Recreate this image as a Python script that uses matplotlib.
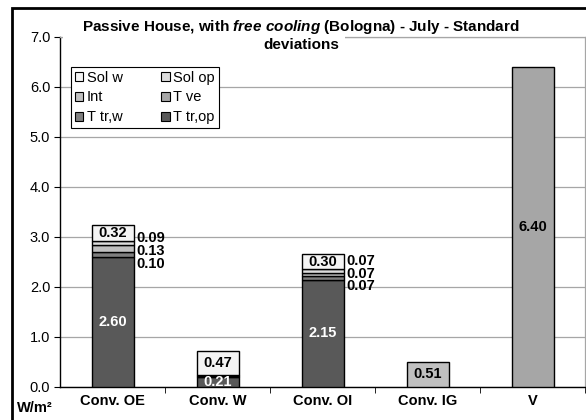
import numpy as np
import matplotlib
matplotlib.use("Agg")
import matplotlib.pyplot as plt
from matplotlib.patches import Rectangle, Patch

plt.rcParams['font.family'] = ['Liberation Sans', 'DejaVu Sans']
plt.rcParams['mathtext.fontset'] = 'custom'
plt.rcParams['mathtext.rm'] = 'Liberation Sans:bold'
plt.rcParams['mathtext.it'] = 'Liberation Sans:bold:italic'
plt.rcParams['mathtext.bf'] = 'Liberation Sans:bold'

# Dati (W/m2)
categories = ['Conv. OE', 'Conv. W', 'Conv. OI', 'Conv. IG', 'V']
t_tr_op = [2.60, 0.21, 2.15, 0.0, 0.0]
t_tr_w = [0.10, 0.02, 0.07, 0.0, 0.0]
t_ve = [0.0, 0.0, 0.0, 0.0, 6.40]
int_g = [0.13, 0.01, 0.07, 0.51, 0.0]
sol_op = [0.09, 0.01, 0.07, 0.0, 0.0]
sol_w = [0.32, 0.47, 0.30, 0.0, 0.0]

series = [
    ('T tr,op', t_tr_op, '#595959'),
    ('T tr,w', t_tr_w, '#7f7f7f'),
    ('T ve', t_ve, '#a6a6a6'),
    ('Int', int_g, '#c0c0c0'),
    ('Sol op', sol_op, '#dddddd'),
    ('Sol w', sol_w, '#f4f4f4'),
]

fig = plt.figure(figsize=(5.86, 4.2), dpi=100)
ax = fig.add_axes([60 / 586, 33 / 420, 525 / 586, 350 / 420])

x = np.arange(len(categories))
width = 0.4
bottom = np.zeros(len(categories))

for name, vals, col in series:
    vals = np.array(vals)
    mask = vals > 0
    ax.bar(x[mask], vals[mask], width, bottom=bottom[mask], color=col,
           edgecolor='black', linewidth=1, zorder=3)
    bottom = bottom + vals

# etichette
bottom = np.zeros(len(categories))
small_count = np.zeros(len(categories), dtype=int)
small_base = {}
for name, vals, col in series:
    for i, v in enumerate(vals):
        if v >= 0.2:
            tc = 'white' if name.startswith('T tr') else 'black'
            ax.text(x[i], bottom[i] + v / 2, f"{v:.2f}", ha='center', va='center',
                    fontsize=10.5, fontweight='bold', color=tc, zorder=5)
        elif v >= 0.05:
            if i not in small_base:
                small_base[i] = bottom[i] - 0.13
            y = small_base[i] + small_count[i] * 0.25
            small_count[i] += 1
            ax.text(x[i] + width / 2 + 0.03, y, f"{v:.2f}", ha='left', va='center',
                    fontsize=10.5, fontweight='bold', color='black', zorder=5)
    bottom = bottom + np.array(vals)

ax.set_xlim(-0.5, len(categories) - 0.5)
ax.set_ylim(0, 7)
ax.set_yticks(np.arange(0, 7.1, 1.0))
ax.set_yticklabels([f"{v:.1f}" for v in np.arange(0, 7.1, 1.0)], fontsize=10.5)
ax.set_xticks(x)
ax.set_xticklabels(categories, fontsize=10.5, fontweight='bold')
ax.set_xticks(np.arange(0.5, len(categories), 1.0), minor=True)
ax.tick_params(axis='x', which='major', length=0, pad=5)
ax.tick_params(axis='x', which='minor', length=4, direction='out', color='black')
ax.tick_params(axis='y', length=4, direction='out', pad=3)

ax.grid(axis='y', color='#a6a6a6', linewidth=0.9, zorder=0)
ax.set_axisbelow(True)
for s in ['top', 'right']:
    ax.spines[s].set_color('#a6a6a6')
    ax.spines[s].set_linewidth(0.9)
for s in ['left', 'bottom']:
    ax.spines[s].set_color('black')
    ax.spines[s].set_linewidth(1)

# legenda
handles = {name: Patch(facecolor=col, edgecolor='black', linewidth=0.8)
           for name, vals, col in series}
order = ['Sol w', 'Int', 'T tr,w', 'Sol op', 'T ve', 'T tr,op']
leg = ax.legend([handles[n] for n in order], order, ncol=2, loc='upper left',
                bbox_to_anchor=(11 / 525, 320 / 350), borderaxespad=0,
                fontsize=10.5, handlelength=0.6, handleheight=0.6, handletextpad=0.25,
                columnspacing=2.6, labelspacing=0.4, fancybox=False,
                edgecolor='black', framealpha=1, borderpad=0.25)
leg.get_frame().set_linewidth(0.8)
leg.set_zorder(6)

# titolo
fig.patches.append(Rectangle((63 / 586, 1 - 53 / 420), 282 / 586, 19 / 420,
                             transform=fig.transFigure, facecolor='white',
                             edgecolor='none', zorder=2))
fig.text(301 / 586, 1 - 27 / 420,
         r"Passive House, with $\it{free\ cooling}$ (Bologna) - July - Standard",
         ha='center', va='center', fontsize=11, fontweight='bold', zorder=4)
fig.text(301 / 586, 1 - 45 / 420, "deviations", ha='center', va='center',
         fontsize=11, fontweight='bold', zorder=4)

fig.text(35 / 586, 1 - 408 / 420, "W/m²", ha='center', va='center',
         fontsize=10.5, fontweight='bold')

# cornice esterna
fig.patches.append(Rectangle((12 / 586, -0.05), 1.0, 1 - 8 / 420 + 0.05,
                             transform=fig.transFigure, facecolor='none',
                             edgecolor='black', linewidth=2, zorder=10))

fig.savefig('out.png', dpi=100)
